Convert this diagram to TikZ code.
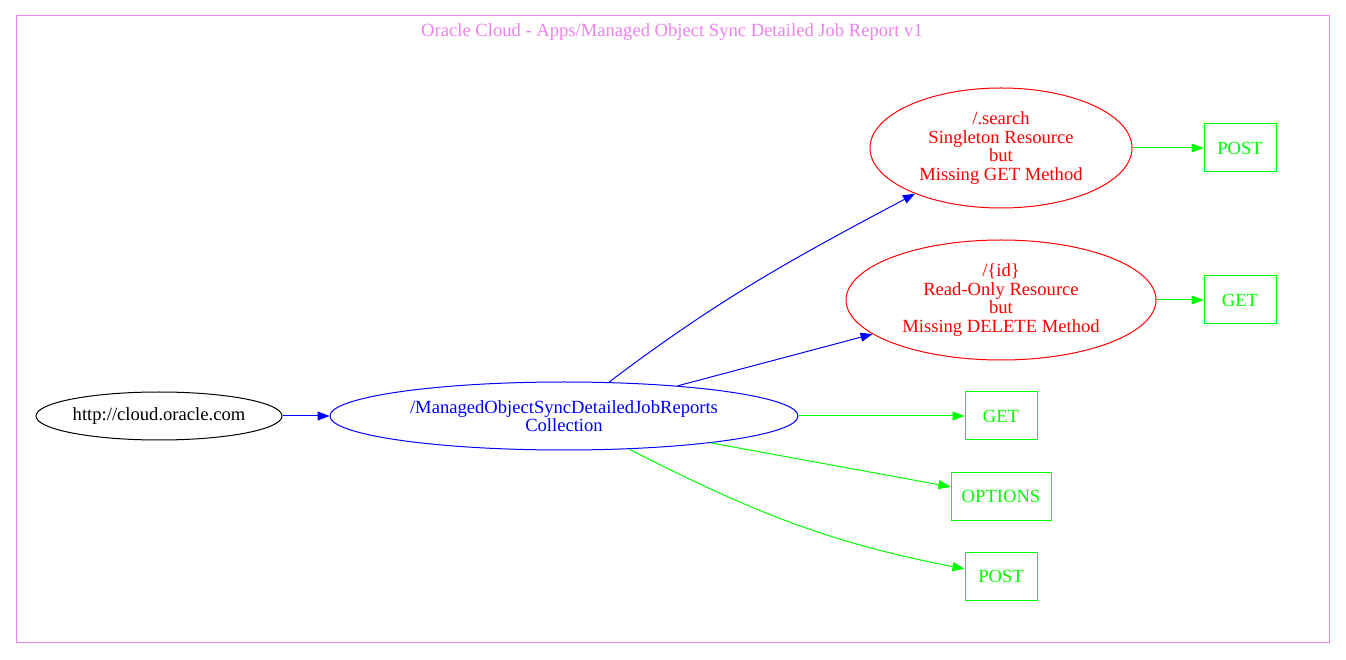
\documentclass[tikz,border=0pt]{standalone}
\usepackage{fontspec}
\setmainfont{Liberation Serif}
\usetikzlibrary{shapes.geometric,arrows.meta}
\definecolor{gvgreen}{HTML}{00FF00}
\definecolor{gvblue}{HTML}{0000FF}
\definecolor{gvred}{HTML}{FF0000}
\definecolor{gvviolet}{HTML}{EE82EE}
\begin{document}
\begin{tikzpicture}[x=1pt,y=1pt,
  every node/.style={font=\fontsize{18.6}{18.7}\selectfont, inner sep=0pt, align=center},
  ell/.style={ellipse, draw, line width=1pt},
  box/.style={rectangle, draw=gvgreen, text=gvgreen, line width=1pt, minimum height=48pt},
  edge/.style={line width=1pt, -{Triangle[length=12pt,width=9pt]}},
]
\useasboundingbox (0,0) rectangle (1346,659);
\draw[gvviolet, line width=1pt] (16,17) rectangle (1329,643);
\node[text=gvviolet] (title) at (672,627) {Oracle Cloud - Apps/Managed Object Sync Detailed Job Report v1};

\node[ell, draw=black, minimum width=246pt, minimum height=48pt] (root) at (159,243) {http://cloud.oracle.com};
\node[ell, draw=gvblue, text=gvblue, minimum width=468pt, minimum height=68pt] (coll) at (564,243) {/ManagedObjectSyncDetailedJobReports\\Collection};
\node[ell, draw=gvred, text=gvred, minimum width=262pt, minimum height=120pt] (search) at (1001,511) {/.search\\Singleton Resource\\but\\Missing GET Method};
\node[ell, draw=gvred, text=gvred, minimum width=310pt, minimum height=120pt] (id) at (1001,359) {/\{id\}\\Read-Only Resource\\but\\Missing DELETE Method};

\node[box, minimum width=72pt] (post1) at (1240,511) {POST};
\node[box, minimum width=72pt] (get1) at (1240,359) {GET};
\node[box, minimum width=72pt] (get2) at (1001,243) {GET};
\node[box, minimum width=100pt] (opt) at (1001,163) {OPTIONS};
\node[box, minimum width=72pt] (post2) at (1001,83) {POST};

\draw[edge, draw=gvblue, fill=gvblue] (root) -- (coll);
\draw[edge, gvblue] (coll) to[out=37, in=208] (search);
\draw[edge, gvblue] (coll) -- (id);
\draw[edge, gvgreen] (coll) -- (get2);
\draw[edge, gvgreen] (coll) -- (opt);
\draw[edge, gvgreen] (coll) to[out=-27, in=169] (post2);
\draw[edge, gvgreen] (search) -- (post1);
\draw[edge, gvgreen] (id) -- (get1);
\end{tikzpicture}
\end{document}
